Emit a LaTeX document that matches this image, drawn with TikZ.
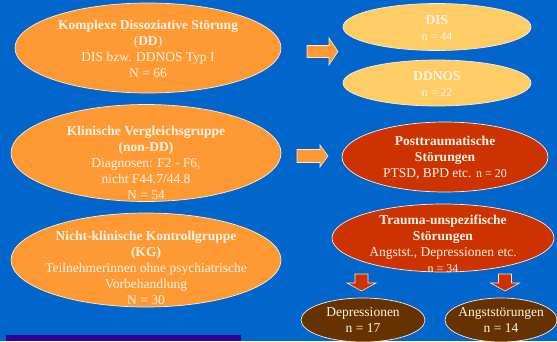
\documentclass[tikz,border=0pt]{standalone}
\usepackage{fontspec}
\setmainfont{Liberation Serif}
\usetikzlibrary{shapes.geometric}
\definecolor{bgblue}{RGB}{0,102,204}
\definecolor{orangeA}{RGB}{255,153,51}
\definecolor{yellowA}{RGB}{255,204,102}
\definecolor{redA}{RGB}{204,51,0}
\definecolor{brownA}{RGB}{102,51,0}
\definecolor{barpurple}{RGB}{51,0,153}
\definecolor{txtcol}{RGB}{255,244,232}
\begin{document}
\begin{tikzpicture}[x=1pt,y=-1pt,
  ell/.style={ellipse, draw=white!80!orangeA, line width=0.7pt, inner sep=0pt},
  txt/.style={text=txtcol, align=center, font=\fontsize{13.5}{16}\selectfont, inner sep=0pt},
  blk/.style={draw=white!75!orangeA, line width=0.6pt}
]
\useasboundingbox (0,0) rectangle (557,341);
\fill[bgblue] (0,0) rectangle (557,341);
\fill[barpurple] (6,335) rectangle (241,341);

% left ellipses
\node[ell, fill=orangeA, minimum width=266pt, minimum height=90pt] (dd) at (148,48) {};
\node[txt] (ddt) at (148,49) {\textbf{Komplexe Dissoziative Störung}\\(\textbf{DD})\\DIS bzw. DDNOS Typ I\\N = 66};

\node[ell, fill=orangeA, minimum width=270pt, minimum height=97pt] (ndd) at (146,153) {};
\node[txt] (nddt) at (146,163) {\textbf{Klinische Vergleichsgruppe}\\\textbf{(non-DD)}\\Diagnosen: F2 - F6,\\nicht F44.7/44.8\\N = 54};

\node[ell, fill=orangeA, minimum width=270pt, minimum height=94pt] (kg) at (146,260) {};
\node[txt] (kgt) at (146,268) {\textbf{Nicht-klinische Kontrollgruppe}\\\textbf{(KG)}\\Teilnehmerinnen ohne psychiatrische\\Vorbehandlung\\N = 30};

% right ellipses
\node[ell, fill=yellowA, minimum width=188pt, minimum height=47pt] (dis) at (437,27) {};
\node[txt] (dist) at (437,28) {\textbf{DIS}\\{\fontsize{12}{16}\selectfont n = 44}};

\node[ell, fill=yellowA, minimum width=188pt, minimum height=46pt] (ddnos) at (437,83) {};
\node[txt] (ddnost) at (437,84) {\textbf{DDNOS}\\{\fontsize{12}{16}\selectfont n = 22}};

\node[ell, fill=redA, minimum width=206pt, minimum height=70pt] (pt) at (445,157) {};
\node[txt] (ptt) at (445,158) {\textbf{Posttraumatische}\\\textbf{Störungen}\\PTSD, BPD etc. {\fontsize{12}{16}\selectfont n = 20}};

\node[ell, fill=redA, minimum width=222pt, minimum height=68pt] (tu) at (443,238) {};
\node[txt] (tut) at (443,244) {\textbf{Trauma-unspezifische}\\\textbf{Störungen}\\Angstst., Depressionen etc.\\{\fontsize{12}{16}\selectfont n = 34}};

\node[ell, fill=brownA, minimum width=124pt, minimum height=44pt] (dep) at (363,320) {};
\node[txt] (dept) at (363,320) {Depressionen\\n = 17};

\node[ell, fill=brownA, minimum width=112pt, minimum height=44pt] (ang) at (501,320) {};
\node[txt] (angt) at (501,320) {Angststörungen\\n = 14};

% block arrows
\filldraw[blk, fill=orangeA, shift={(307,51.5)}] (0,-6) -- (22,-6) -- (22,-13.5) -- (31,0) -- (22,13.5) -- (22,6) -- (0,6) -- cycle;
\filldraw[blk, fill=orangeA, shift={(297,156)}] (0,-6.5) -- (23,-6.5) -- (23,-11) -- (31,0) -- (23,11) -- (23,6.5) -- (0,6.5) -- cycle;
\filldraw[blk, fill=redA, shift={(361.5,274)}] (-6.5,0) -- (-6.5,9) -- (-14.5,9) -- (0,17) -- (14.5,9) -- (6.5,9) -- (6.5,0) -- cycle;
\filldraw[blk, fill=redA, shift={(505,274)}] (-6.5,0) -- (-6.5,9) -- (-14.5,9) -- (0,17) -- (14.5,9) -- (6.5,9) -- (6.5,0) -- cycle;
\end{tikzpicture}
\end{document}
